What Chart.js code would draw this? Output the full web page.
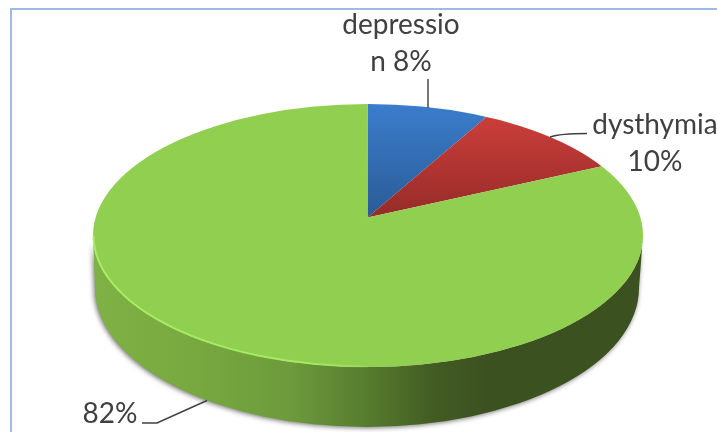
<!DOCTYPE html>
<html>
<head>
<meta charset="utf-8">
<title>Pie</title>
<script src="https://cdn.jsdelivr.net/npm/chart.js@4/dist/chart.umd.js"></script>
<style>
    html, body { margin: 0; padding: 0; background: #fff; overflow: hidden; }
    #wrap { position: relative; width: 717px; height: 432px; }
    #frame { position: absolute; left: 10px; top: 8px; right: 0; bottom: 0; border-left: 2px solid #9dbbe3; border-top: 2px solid #9dbbe3; }
    canvas { position: absolute; left: 0; top: 0; }
</style>
</head>
<body>
<div id="wrap">
    <div id="frame"></div>
    <canvas id="grafico" width="717" height="432"></canvas>
</div>
<script>
// datos
const categorias = ['depression', 'dysthymia', 'otros'];
const valores = [8, 10, 82];
const lineasEtiqueta = [['depressio', 'n 8%'], ['dysthymia', '10%'], ['82%']];

// geometria de la tapa en pantalla
const APEX = { x: 367.5, y: 217.5 };
const TAPA = { x: 368, y: 235.5, rx: 275, ry: 131.5 };
const BASE = { x: 367, y: 288, rx: 272, ry: 139 };
const RADIO_PANTALLA = 340;
const RATIO = 0.465;

function escala(chart) {
    const R = (chart.chartArea.bottom - chart.chartArea.top) / 2;
    const sx = RADIO_PANTALLA / R;
    return { sx: sx, sy: sx * RATIO, cx: (chart.chartArea.left + chart.chartArea.right) / 2, cy: (chart.chartArea.top + chart.chartArea.bottom) / 2 };
}

// degradado vertical, dado en pixeles de pantalla
function degradado(chart, y0, y1, c0, c1) {
    const e = escala(chart);
    const g = chart.ctx.createLinearGradient(0, e.cy + (y0 - APEX.y) / e.sy, 0, e.cy + (y1 - APEX.y) / e.sy);
    g.addColorStop(0, c0);
    g.addColorStop(1, c1);
    return g;
}

function colorPorcion(c) {
    if (!c.chart.chartArea) return '#92d050';
    if (c.dataIndex === 0) return degradado(c.chart, 104, 217, '#3b7dcc', '#2a5b96');
    if (c.dataIndex === 1) return degradado(c.chart, 116, 217, '#cc3e3a', '#952b28');
    return '#91cf50';
}

const pie3d = {
    id: 'pie3d',
    beforeDatasetsDraw(chart) {
        const ctx = chart.ctx;

        // pared lateral
        ctx.save();
        ctx.shadowColor = 'rgba(0,0,0,0.55)';
        ctx.shadowBlur = 5;
        ctx.shadowOffsetX = -1;
        ctx.shadowOffsetY = 1;
        const g = ctx.createLinearGradient(TAPA.x - TAPA.rx, 0, TAPA.x + TAPA.rx, 0);
        g.addColorStop(0, '#7fb146');
        g.addColorStop(0.2, '#76a83f');
        g.addColorStop(0.36, '#6d9a3c');
        g.addColorStop(0.5, '#567b2e');
        g.addColorStop(0.62, '#425c23');
        g.addColorStop(0.72, '#3b5120');
        g.addColorStop(1, '#3b5120');
        ctx.fillStyle = g;
        ctx.beginPath();
        ctx.ellipse(BASE.x, BASE.y, BASE.rx, BASE.ry, 0, 0, Math.PI);
        ctx.lineTo(TAPA.x - TAPA.rx, TAPA.y);
        ctx.ellipse(TAPA.x, TAPA.y, TAPA.rx, TAPA.ry, 0, Math.PI, 0, true);
        ctx.closePath();
        ctx.fill();
        ctx.restore();

        // la tapa: la dona de Chart.js, aplastada y recortada
        const e = escala(chart);
        ctx.save();
        ctx.beginPath();
        ctx.ellipse(TAPA.x, TAPA.y, TAPA.rx, TAPA.ry, 0, 0, Math.PI * 2);
        ctx.clip();
        ctx.translate(APEX.x, APEX.y);
        ctx.scale(e.sx, e.sy);
        ctx.translate(-e.cx, -e.cy);
    },
    afterDatasetsDraw(chart) {
        const ctx = chart.ctx;
        ctx.restore();

        // brillo del borde izquierdo
        const g = ctx.createLinearGradient(TAPA.x - TAPA.rx, 0, TAPA.x + 30, 0);
        g.addColorStop(0, 'rgba(170,240,100,0.9)');
        g.addColorStop(0.7, 'rgba(170,240,100,0.8)');
        g.addColorStop(1, 'rgba(170,240,100,0)');
        ctx.save();
        ctx.strokeStyle = g;
        ctx.lineWidth = 2;
        ctx.beginPath();
        ctx.ellipse(TAPA.x, TAPA.y, TAPA.rx - 0.5, TAPA.ry - 0.5, 0, Math.PI * 0.5, Math.PI);
        ctx.stroke();
        ctx.restore();

        // lineas guia
        ctx.save();
        ctx.strokeStyle = '#404040';
        ctx.lineWidth = 1.4;
        ctx.beginPath();
        ctx.moveTo(428, 79); ctx.lineTo(428, 108);
        ctx.moveTo(550, 137); ctx.quadraticCurveTo(560, 133.5, 587, 133.5);
        ctx.moveTo(142, 423); ctx.lineTo(157, 423); ctx.lineTo(207, 400.5);
        ctx.stroke();
        ctx.restore();

        // etiquetas
        ctx.save();
        ctx.fillStyle = '#404040';
        ctx.font = '28px Lato';
        ctx.textAlign = 'center';
        ctx.textBaseline = 'alphabetic';
        const sitios = [[401, 34], [655, 134], [110, 423]];
        lineasEtiqueta.forEach((lineas, i) => {
            lineas.forEach((t, j) => ctx.fillText(t, sitios[i][0], sitios[i][1] + j * 37));
        });
        ctx.restore();
    }
};

new Chart(document.getElementById('grafico'), {
    type: 'pie',
    data: {
        labels: categorias,
        datasets: [{
            data: valores,
            backgroundColor: colorPorcion,
            borderWidth: 0,
            clip: false
        }]
    },
    options: {
        responsive: false,
        animation: false,
        events: [],
        layout: { padding: 0 },
        plugins: { legend: { display: false }, tooltip: { enabled: false } }
    },
    plugins: [pie3d]
});
</script>
</body>
</html>
